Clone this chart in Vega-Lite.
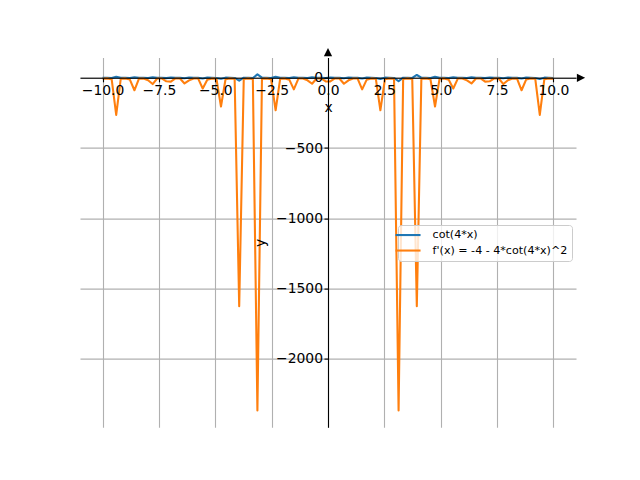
{
  "$schema": "https://vega.github.io/schema/vega-lite/v6.json",
  "width": 496,
  "height": 369.6,
  "autosize": {"type": "none"},
  "padding": {"left": 80, "top": 57.6, "right": 64, "bottom": 52.8},
  "background": "white",
  "config": {
    "view": {"stroke": null},
    "font": "DejaVu Sans",
    "axis": {
      "labelFont": "DejaVu Sans",
      "labelFontSize": 13.9,
      "labelColor": "black",
      "titleFont": "DejaVu Sans",
      "titleFontSize": 13.9,
      "titleFontWeight": "normal",
      "titleColor": "black",
      "labelOverlap": false,
      "labelFlush": false,
      "gridColor": "#b0b0b0",
      "gridWidth": 1.1,
      "gridOpacity": 1,
      "domainColor": "black",
      "domainWidth": 1.1,
      "tickColor": "black",
      "tickWidth": 1.1
    },
    "legend": {
      "labelFont": "DejaVu Sans",
      "labelFontSize": 11.1,
      "labelColor": "black"
    }
  },
  "data": {
    "values": [
      {"x": -10, "c": 0.895, "d": -7.2},
      {"x": -9.798, "c": -0.078, "d": -4.02},
      {"x": -9.596, "c": -1.225, "d": -10.0},
      {"x": -9.394, "c": 8.066, "d": -264.2},
      {"x": -9.192, "c": 0.744, "d": -6.21},
      {"x": -8.99, "c": -0.17, "d": -4.12},
      {"x": -8.788, "c": -1.481, "d": -12.77},
      {"x": -8.586, "c": 4.6, "d": -88.6},
      {"x": -8.384, "c": 0.611, "d": -5.49},
      {"x": -8.182, "c": -0.265, "d": -4.28},
      {"x": -7.98, "c": -1.816, "d": -17.2},
      {"x": -7.778, "c": 3.178, "d": -44.4},
      {"x": -7.576, "c": 0.493, "d": -4.97},
      {"x": -7.374, "c": -0.365, "d": -4.53},
      {"x": -7.172, "c": -2.285, "d": -24.88},
      {"x": -6.97, "c": 2.395, "d": -26.94},
      {"x": -6.768, "c": 0.385, "d": -4.59},
      {"x": -6.566, "c": -0.472, "d": -4.89},
      {"x": -6.364, "c": -2.999, "d": -39.99},
      {"x": -6.162, "c": 1.892, "d": -18.31},
      {"x": -5.96, "c": 0.284, "d": -4.32},
      {"x": -5.758, "c": -0.588, "d": -5.38},
      {"x": -5.556, "c": -4.25, "d": -76.26},
      {"x": -5.354, "c": 1.536, "d": -13.44},
      {"x": -5.152, "c": 0.188, "d": -4.14},
      {"x": -4.949, "c": -0.718, "d": -6.06},
      {"x": -4.747, "c": -7.079, "d": -204.4},
      {"x": -4.545, "c": 1.268, "d": -10.43},
      {"x": -4.343, "c": 0.095, "d": -4.04},
      {"x": -4.141, "c": -0.865, "d": -6.99},
      {"x": -3.939, "c": -20.139, "d": -1626.3},
      {"x": -3.737, "c": 1.055, "d": -8.46},
      {"x": -3.535, "c": 0.004, "d": -4.0},
      {"x": -3.333, "c": -1.038, "d": -8.31},
      {"x": -3.131, "c": 24.307, "d": -2367.3},
      {"x": -2.929, "c": 0.88, "d": -7.1},
      {"x": -2.727, "c": -0.087, "d": -4.03},
      {"x": -2.525, "c": -1.246, "d": -10.21},
      {"x": -2.323, "c": 7.541, "d": -231.4},
      {"x": -2.121, "c": 0.73, "d": -6.13},
      {"x": -1.919, "c": -0.179, "d": -4.13},
      {"x": -1.717, "c": -1.508, "d": -13.1},
      {"x": -1.515, "c": 4.418, "d": -82.1},
      {"x": -1.313, "c": 0.6, "d": -5.44},
      {"x": -1.111, "c": -0.275, "d": -4.3},
      {"x": -0.909, "c": -1.854, "d": -17.74},
      {"x": -0.707, "c": 3.087, "d": -42.1},
      {"x": -0.505, "c": 0.482, "d": -4.93},
      {"x": -0.303, "c": -0.375, "d": -4.56},
      {"x": -0.101, "c": -2.339, "d": -25.88},
      {"x": 0.101, "c": 2.339, "d": -25.88},
      {"x": 0.303, "c": 0.375, "d": -4.56},
      {"x": 0.505, "c": -0.482, "d": -4.93},
      {"x": 0.707, "c": -3.087, "d": -42.1},
      {"x": 0.909, "c": 1.854, "d": -17.74},
      {"x": 1.111, "c": 0.275, "d": -4.3},
      {"x": 1.313, "c": -0.6, "d": -5.44},
      {"x": 1.515, "c": -4.418, "d": -82.1},
      {"x": 1.717, "c": 1.508, "d": -13.1},
      {"x": 1.919, "c": 0.179, "d": -4.13},
      {"x": 2.121, "c": -0.73, "d": -6.13},
      {"x": 2.323, "c": -7.541, "d": -231.4},
      {"x": 2.525, "c": 1.246, "d": -10.21},
      {"x": 2.727, "c": 0.087, "d": -4.03},
      {"x": 2.929, "c": -0.88, "d": -7.1},
      {"x": 3.131, "c": -24.307, "d": -2367.3},
      {"x": 3.333, "c": 1.038, "d": -8.31},
      {"x": 3.535, "c": -0.004, "d": -4.0},
      {"x": 3.737, "c": -1.055, "d": -8.46},
      {"x": 3.939, "c": 20.139, "d": -1626.3},
      {"x": 4.141, "c": 0.865, "d": -6.99},
      {"x": 4.343, "c": -0.095, "d": -4.04},
      {"x": 4.545, "c": -1.268, "d": -10.43},
      {"x": 4.747, "c": 7.079, "d": -204.4},
      {"x": 4.949, "c": 0.718, "d": -6.06},
      {"x": 5.152, "c": -0.188, "d": -4.14},
      {"x": 5.354, "c": -1.536, "d": -13.44},
      {"x": 5.556, "c": 4.25, "d": -76.26},
      {"x": 5.758, "c": 0.588, "d": -5.38},
      {"x": 5.96, "c": -0.284, "d": -4.32},
      {"x": 6.162, "c": -1.892, "d": -18.31},
      {"x": 6.364, "c": 2.999, "d": -39.99},
      {"x": 6.566, "c": 0.472, "d": -4.89},
      {"x": 6.768, "c": -0.385, "d": -4.59},
      {"x": 6.97, "c": -2.395, "d": -26.94},
      {"x": 7.172, "c": 2.285, "d": -24.88},
      {"x": 7.374, "c": 0.365, "d": -4.53},
      {"x": 7.576, "c": -0.493, "d": -4.97},
      {"x": 7.778, "c": -3.178, "d": -44.4},
      {"x": 7.98, "c": 1.816, "d": -17.2},
      {"x": 8.182, "c": 0.265, "d": -4.28},
      {"x": 8.384, "c": -0.611, "d": -5.49},
      {"x": 8.586, "c": -4.6, "d": -88.6},
      {"x": 8.788, "c": 1.481, "d": -12.77},
      {"x": 8.99, "c": 0.17, "d": -4.12},
      {"x": 9.192, "c": -0.744, "d": -6.21},
      {"x": 9.394, "c": -8.066, "d": -264.2},
      {"x": 9.596, "c": 1.225, "d": -10.0},
      {"x": 9.798, "c": 0.078, "d": -4.02},
      {"x": 10, "c": -0.895, "d": -7.2}
    ]
  },
  "resolve": {"axis": {"x": "independent", "y": "independent"}},
  "layer": [
    {
      "mark": {"type": "line", "strokeWidth": 2.08, "strokeJoin": "round"},
      "encoding": {
        "x": {
          "field": "x", "type": "quantitative",
          "scale": {"domain": [-11, 11], "nice": false, "zero": false},
          "axis": {"orient": "top", "grid": true, "labels": false, "ticks": false, "domain": false, "title": null, "values": [-10, -7.5, -5, -2.5, 0, 2.5, 5, 7.5, 10], "zindex": 0}
        },
        "y": {
          "field": "c", "type": "quantitative",
          "scale": {"domain": [-2486.9, 143.9], "nice": false, "zero": false},
          "axis": {"orient": "right", "grid": true, "labels": false, "ticks": false, "domain": false, "title": null, "values": [-2000, -1500, -1000, -500, 0], "zindex": 0}
        },
        "color": {
          "datum": "cot(4*x)",
          "type": "nominal",
          "scale": {"domain": ["cot(4*x)", "f'(x) = -4 - 4*cot(4*x)^2"], "range": ["#1f77b4", "#ff7f0e"]},
          "legend": {
            "orient": "none", "legendX": 318, "legendY": 167.4, "title": null,
            "symbolType": "M-4,0H4", "symbolSize": 39, "symbolStrokeWidth": 2.08,
            "labelOffset": 19, "rowPadding": 3.5, "padding": 4.5,
            "fillColor": "rgba(255,255,255,0.8)", "strokeColor": "#cccccc", "cornerRadius": 3
          }
        }
      }
    },
    {
      "mark": {"type": "line", "strokeWidth": 2.08, "strokeJoin": "round"},
      "encoding": {
        "x": {
          "field": "x", "type": "quantitative",
          "axis": {"orient": "bottom", "offset": -349.4, "grid": false, "title": "x", "values": [-10, -7.5, -5, -2.5, 0, 2.5, 5, 7.5, 10], "format": ".1f", "tickSize": 4, "labelPadding": 1.5, "titlePadding": 3, "zindex": 1}
        },
        "y": {
          "field": "d", "type": "quantitative",
          "axis": {"orient": "left", "offset": -248, "grid": false, "title": "y", "values": [-2000, -1500, -1000, -500, 0], "format": "d", "tickSize": 4, "labelPadding": 1.5, "titlePadding": 8, "zindex": 1}
        },
        "color": {"datum": "f'(x) = -4 - 4*cot(4*x)^2", "type": "nominal"}
      }
    },
    {
      "data": {"values": [{"ax": 11, "ay": 0}]},
      "mark": {"type": "point", "shape": "M-1,-1L1,0L-1,1Z", "filled": true, "color": "black", "opacity": 1, "size": 69, "clip": false, "xOffset": 5},
      "encoding": {
        "x": {"field": "ax", "type": "quantitative", "axis": null},
        "y": {"field": "ay", "type": "quantitative", "axis": null}
      }
    },
    {
      "data": {"values": [{"ax": 0, "ay": 143.9}]},
      "mark": {"type": "point", "shape": "M-1,1L0,-1L1,1Z", "filled": true, "color": "black", "opacity": 1, "size": 69, "clip": false, "yOffset": -5.4},
      "encoding": {
        "x": {"field": "ax", "type": "quantitative", "axis": null},
        "y": {"field": "ay", "type": "quantitative", "axis": null}
      }
    }
  ]
}
